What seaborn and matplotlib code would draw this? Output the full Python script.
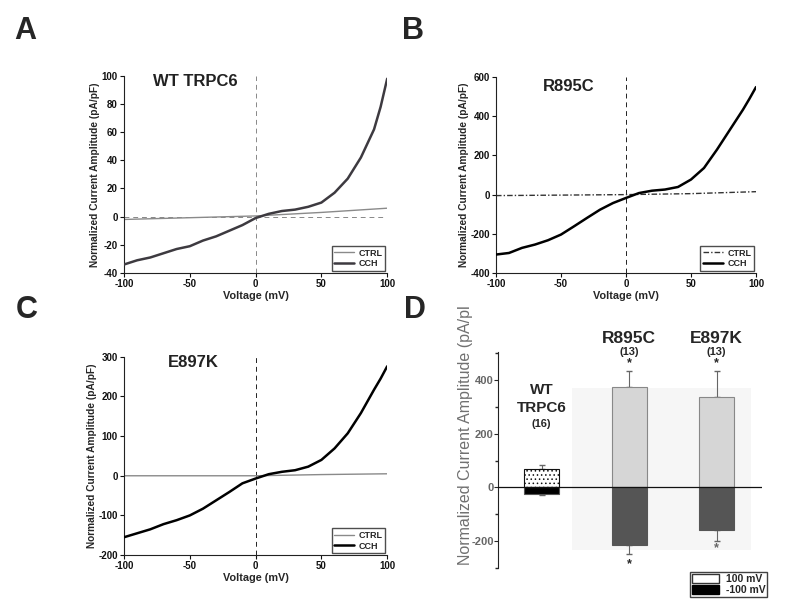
import numpy as np
import pandas as pd
import matplotlib
matplotlib.use("Agg")
import matplotlib.pyplot as plt
import matplotlib.patches as mpatches
from matplotlib.ticker import MultipleLocator
import seaborn as sns

# ── Data ──────────────────────────────────────────────────────────────────────
VOLT = [-100, -90, -80, -70, -60, -50, -40, -30, -20, -10, 0,
        10, 20, 30, 40, 50, 60, 70, 80, 90, 95, 100]
CTRL_VOLT = [-100, 0, 50, 100]

A_CCH = [-34, -31, -29, -26, -23, -21, -17, -14, -10, -6, -1,
         2, 4, 5, 7, 10, 17, 27, 42, 62, 78, 98]
A_CTRL = [-2, 0.5, 3, 6]

B_CCH = [-306, -298, -272, -255, -233, -204, -162, -119, -77, -43, -17,
         8, 20, 26, 39, 77, 136, 230, 332, 434, 490, 549]
B_CTRL = [-5, 0, 5, 15]

C_CCH = [-155, -145, -135, -122, -112, -100, -83, -62, -41, -19, -7,
         4, 10, 14, 23, 40, 69, 107, 158, 217, 245, 276]
C_CTRL = [0, 0, 3, 5]

GROUPS = ["WT TRPC6", "R895C", "E897K"]
N_CELLS = [16, 13, 13]
POS_100 = [67, 374, 336]
POS_ERR = [15, 60, 98]
NEG_100 = [-26, -213, -157]
NEG_ERR = [3, 34, 41]

# ── Style ─────────────────────────────────────────────────────────────────────
sns.set_theme(style="white")
plt.rcParams.update({
    "font.family": ["Liberation Sans", "DejaVu Sans"],
    "font.weight": "bold",
    "axes.labelweight": "bold",
    "axes.unicode_minus": False,
    "axes.linewidth": 0.8,
    "xtick.major.size": 3,
    "ytick.major.size": 3,
    "xtick.major.width": 0.8,
    "ytick.major.width": 0.8,
    "xtick.labelsize": 7,
    "ytick.labelsize": 7,
    "hatch.color": "#9a9a9a",
    "hatch.linewidth": 0.6,
})

fig = plt.figure(figsize=(8, 6.12), dpi=100)


def iv_panel(rect, cch, ctrl, ylim, yticks, title, title_xy, cch_color,
             ctrl_color, ctrl_style, hline=False):
    ax = fig.add_axes(rect)
    ax.axvline(0, color="#888888" if hline else "#222222", lw=0.7,
               ls=(0, (5, 4)), zorder=1)
    if hline:
        ax.axhline(0, color="#888888", lw=0.7, ls=(0, (5, 4)), zorder=1)
    sns.lineplot(x=CTRL_VOLT, y=ctrl, ax=ax, color=ctrl_color, lw=1.0,
                 linestyle=ctrl_style, label="CTRL", zorder=2)
    sns.lineplot(x=VOLT, y=cch, ax=ax, color=cch_color, lw=1.8,
                 label="CCH", zorder=3)
    ax.set_xlim(-100, 100)
    ax.set_ylim(*ylim)
    ax.set_xticks([-100, -50, 0, 50, 100])
    ax.set_yticks(yticks)
    for s in ["top", "right"]:
        ax.spines[s].set_visible(False)
    for s in ["left", "bottom"]:
        ax.spines[s].set_color("#222222")
    ax.tick_params(axis="both", which="major", direction="out", pad=1.5,
                   left=True, bottom=True, colors="#111111")
    for lab in ax.get_xticklabels() + ax.get_yticklabels():
        lab.set_fontweight("bold")
    ax.set_ylabel("Normalized Current Amplitude (pA/pF)", fontsize=7.3, labelpad=1)
    ax.set_xlabel("Voltage (mV)", fontsize=7.8, labelpad=1)
    ax.text(title_xy[0], title_xy[1], title, transform=ax.transAxes,
            fontsize=12, fontweight="bold", color="#222222", va="center")
    ax.legend(loc="lower right", fontsize=6.5, frameon=True, fancybox=False,
              edgecolor="#222222", handlelength=2.2, borderpad=0.3,
              labelspacing=0.2, handletextpad=0.5, borderaxespad=0.2)
    return ax


# Panel A
iv_panel([0.155, 0.554, 0.329, 0.322], A_CCH, A_CTRL, (-40, 100),
         [-40, -20, 0, 20, 40, 60, 80, 100], "WT TRPC6", (0.11, 0.97),
         "#3d3a40", "#8a8a8a", "-", hline=True)
# Panel B
iv_panel([0.620, 0.554, 0.325, 0.320], B_CCH, B_CTRL, (-400, 600),
         [-400, -200, 0, 200, 400, 600], "R895C", (0.18, 0.95),
         "#000000", "#333333", (0, (4, 1.5, 1, 1.5)))
# Panel C
iv_panel([0.155, 0.093, 0.329, 0.324], C_CCH, C_CTRL, (-200, 300),
         [-200, -100, 0, 100, 200, 300], "E897K", (0.165, 0.97),
         "#000000", "#8a8a8a", "-")

# Panel D: bar summary
axd = fig.add_axes([0.6225, 0.072, 0.33, 0.353])
axd.add_patch(mpatches.Rectangle((0.28, 0.083), 0.68, 0.75, transform=axd.transAxes,
                                 facecolor="#f6f6f6", edgecolor="none", zorder=0))
pos_pal = {"WT TRPC6": "#ffffff", "R895C": "#d6d6d6", "E897K": "#d6d6d6"}
neg_pal = {"WT TRPC6": "#000000", "R895C": "#555555", "E897K": "#555555"}
sns.barplot(x=GROUPS, y=POS_100, hue=GROUPS, palette=pos_pal, legend=False,
            width=0.4, ax=axd, edgecolor="#888888", linewidth=0.8, zorder=2)
sns.barplot(x=GROUPS, y=NEG_100, hue=GROUPS, palette=neg_pal, legend=False,
            width=0.4, ax=axd, edgecolor="#555555", linewidth=0.8, zorder=2)
wt_bar = axd.patches[1]
wt_bar.set_hatch("....")
wt_bar.set_edgecolor("#111111")

xs = np.arange(len(GROUPS))
axd.errorbar(xs, POS_100, yerr=[np.zeros(3), POS_ERR], fmt="none",
             ecolor="#666666", elinewidth=0.8, capsize=2, zorder=1)
axd.errorbar(xs, NEG_100, yerr=[NEG_ERR, np.zeros(3)], fmt="none",
             ecolor="#666666", elinewidth=0.8, capsize=2, zorder=1)
axd.axhline(0, color="#111111", lw=0.9, zorder=3)

# group labels
axd.text(0, 363, "WT", ha="center", va="center", fontsize=11, fontweight="bold")
axd.text(0, 295, "TRPC6", ha="center", va="center", fontsize=11, fontweight="bold")
axd.text(0, 235, f"({N_CELLS[0]})", ha="center", va="center", fontsize=8)
for i in (1, 2):
    axd.text(i, 556, GROUPS[i], ha="center", va="center", fontsize=12.5,
             fontweight="bold", clip_on=False)
    axd.text(i, 503, f"({N_CELLS[i]})", ha="center", va="center", fontsize=8,
             clip_on=False)
    axd.text(i, 462, "*", ha="center", va="center", fontsize=9)
axd.text(1, -285, "*", ha="center", va="center", fontsize=9)
axd.text(2, -228, "*", ha="center", va="center", fontsize=9, color="#666666")

axd.set_xlim(-0.5, 2.52)
axd.set_ylim(-300, 505)
axd.set_yticks([-200, 0, 200, 400])
axd.set_yticklabels(["-200", "0", "200", "400"])
axd.yaxis.set_minor_locator(MultipleLocator(100))
axd.set_xticks([])
for s in ["top", "right", "bottom"]:
    axd.spines[s].set_visible(False)
axd.spines["left"].set_color("#222222")
axd.tick_params(axis="y", which="major", direction="out", length=3, pad=0,
                labelsize=8, labelcolor="#666666", left=True)
axd.tick_params(axis="y", which="minor", direction="out", length=2, left=True)
axd.set_ylabel("Normalized Current Amplitude (pA/pl", fontsize=11.5,
               fontweight="normal", color="#707070", va="center")
axd.yaxis.set_label_coords(-0.125, 0.616)
leg_handles = [mpatches.Patch(facecolor="white", edgecolor="#333333", label="100 mV"),
               mpatches.Patch(facecolor="black", edgecolor="black", label="-100 mV")]
axd.legend(handles=leg_handles, loc="upper right", bbox_to_anchor=(1.02, -0.02),
           fontsize=7.5, frameon=True, fancybox=False, edgecolor="#111111",
           handlelength=2.6, handleheight=0.9, borderpad=0.2,
           labelspacing=0.1, handletextpad=0.6, borderaxespad=0)

# panel letters
for letter, (x, y) in {"A": (0.018, 0.95), "B": (0.503, 0.95),
                       "C": (0.02, 0.493), "D": (0.505, 0.493)}.items():
    fig.text(x, y, letter, fontsize=22, fontweight="bold", va="center")

fig.savefig("out.png", dpi=100, facecolor="white")
